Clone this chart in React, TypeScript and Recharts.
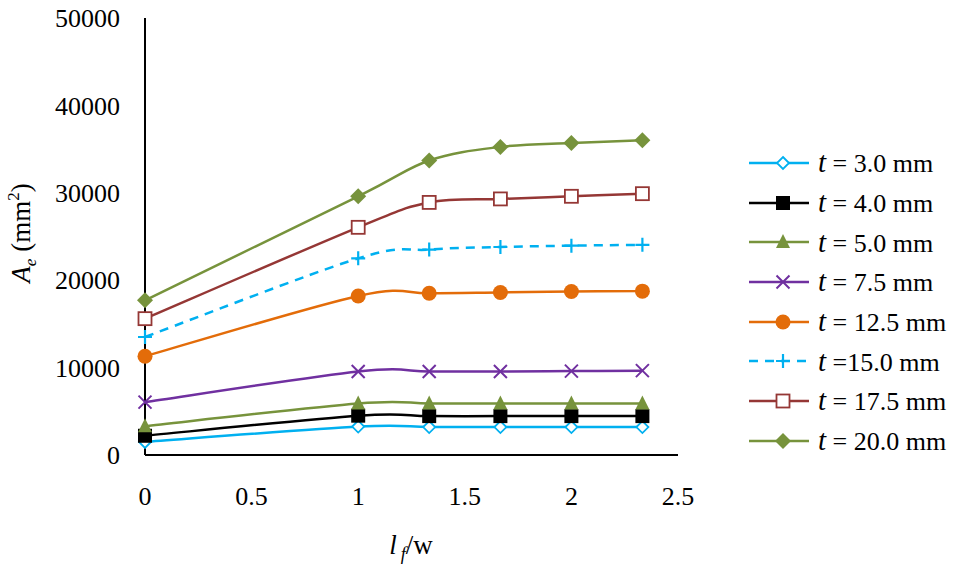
import * as React from "react";
import { CartesianGrid, Line, LineChart, XAxis, YAxis } from "recharts";

// l_f / w ratios and effective area (mm²) for each plate thickness
const lfw = [0, 1, 1.333, 1.667, 2, 2.333];
const t30 = [1500, 3250, 3200, 3200, 3200, 3200];
const t40 = [2200, 4500, 4450, 4450, 4450, 4450];
const t50 = [3300, 5900, 5900, 5900, 5900, 5900];
const t75 = [6050, 9550, 9550, 9550, 9600, 9650];
const t125 = [11300, 18200, 18500, 18600, 18700, 18750];
const t150 = [13500, 22500, 23500, 23800, 23950, 24050];
const t175 = [15600, 26050, 28900, 29300, 29600, 29900];
const t200 = [17700, 29600, 33700, 35250, 35700, 36000];

const xTicks = [0, 0.5, 1, 1.5, 2, 2.5];
const yTicks = [0, 10000, 20000, 30000, 40000, 50000];

const FONT = '"Liberation Serif", "Times New Roman", serif';

type Marker = "diamondOpen" | "square" | "triangle" | "cross" | "circle" | "plus" | "squareOpen" | "diamond";

type SeriesDef = {
  key: string;
  label: string;
  color: string;
  marker: Marker;
  dashed?: boolean;
  values: number[];
};

const series: SeriesDef[] = [
  { key: "t30", label: " = 3.0 mm", color: "#00B0F0", marker: "diamondOpen", values: t30 },
  { key: "t40", label: " = 4.0 mm", color: "#000000", marker: "square", values: t40 },
  { key: "t50", label: " = 5.0 mm", color: "#77933C", marker: "triangle", values: t50 },
  { key: "t75", label: " = 7.5 mm", color: "#7030A0", marker: "cross", values: t75 },
  { key: "t125", label: " = 12.5 mm", color: "#E36C09", marker: "circle", values: t125 },
  { key: "t150", label: " =15.0 mm", color: "#00B0F0", marker: "plus", dashed: true, values: t150 },
  { key: "t175", label: " = 17.5 mm", color: "#953735", marker: "squareOpen", values: t175 },
  { key: "t200", label: " = 20.0 mm", color: "#77933C", marker: "diamond", values: t200 },
];

const data = lfw.map((x, i) => {
  const row: Record<string, number> = { x };
  series.forEach((s) => (row[s.key] = s.values[i]));
  return row;
});

// Excel-like smoothed line (Catmull-Rom style bezier)
function excelCurve(context: any) {
  let pts: [number, number][] = [];
  return {
    areaStart() {},
    areaEnd() {},
    lineStart() {
      pts = [];
    },
    point(x: number, y: number) {
      pts.push([+x, +y]);
    },
    lineEnd() {
      if (!pts.length) return;
      context.moveTo(pts[0][0], pts[0][1]);
      for (let i = 0; i < pts.length - 1; i++) {
        const p0 = pts[i - 1] || pts[i];
        const p1 = pts[i];
        const p2 = pts[i + 1];
        const p3 = pts[i + 2] || p2;
        context.bezierCurveTo(
          p1[0] + (p2[0] - p0[0]) / 6,
          p1[1] + (p2[1] - p0[1]) / 6,
          p2[0] - (p3[0] - p1[0]) / 6,
          p2[1] - (p3[1] - p1[1]) / 6,
          p2[0],
          p2[1]
        );
      }
    },
  };
}

function MarkerShape({ type, cx, cy, color }: { type: Marker; cx: number; cy: number; color: string }) {
  switch (type) {
    case "diamondOpen":
      return (
        <polygon
          points={`${cx},${cy - 6} ${cx + 6},${cy} ${cx},${cy + 6} ${cx - 6},${cy}`}
          fill="#fff"
          stroke={color}
          strokeWidth={1.8}
        />
      );
    case "diamond":
      return (
        <polygon points={`${cx},${cy - 8} ${cx + 8},${cy} ${cx},${cy + 8} ${cx - 8},${cy}`} fill={color} />
      );
    case "square":
      return <rect x={cx - 7} y={cy - 7} width={14} height={14} fill={color} />;
    case "squareOpen":
      return (
        <rect x={cx - 6.5} y={cy - 6.5} width={13} height={13} fill="#fff" stroke={color} strokeWidth={1.8} />
      );
    case "triangle":
      return <polygon points={`${cx},${cy - 8} ${cx + 7},${cy + 6} ${cx - 7},${cy + 6}`} fill={color} />;
    case "circle":
      return <circle cx={cx} cy={cy} r={7.5} fill={color} />;
    case "cross":
      return (
        <path
          d={`M${cx - 6.5},${cy - 6.5}L${cx + 6.5},${cy + 6.5}M${cx - 6.5},${cy + 6.5}L${cx + 6.5},${cy - 6.5}`}
          stroke={color}
          strokeWidth={2}
        />
      );
    case "plus":
      return (
        <path d={`M${cx - 7},${cy}L${cx + 7},${cy}M${cx},${cy - 7}L${cx},${cy + 7}`} stroke={color} strokeWidth={2.2} />
      );
  }
  return null;
}

function YLabel() {
  return (
    <text
      x={30}
      y={233}
      transform="rotate(-90 30 233)"
      textAnchor="middle"
      fontFamily={FONT}
      fontSize={27}
      fill="#000"
    >
      <tspan fontStyle="italic">A</tspan>
      <tspan fontSize={17} dy={6} fontStyle="italic">e</tspan>
      <tspan dy={-6}> (mm</tspan>
      <tspan fontSize={17} dy={-11}>2</tspan>
      <tspan dy={11}>)</tspan>
    </text>
  );
}

function XLabel() {
  return (
    <text x={411} y={554} textAnchor="middle" fontFamily={FONT} fontSize={27} fill="#000">
      <tspan fontStyle="italic">l</tspan>
      <tspan fontSize={18} dy={6} dx={4} fontStyle="italic">f</tspan>
      <tspan dy={-6}>/w</tspan>
    </text>
  );
}

function LegendBox() {
  return (
    <div style={{ position: "absolute", left: 745, top: 143, fontFamily: FONT, fontSize: 26, color: "#000" }}>
      {series.map((s) => (
        <div key={s.key} style={{ display: "flex", alignItems: "center", height: 39.7 }}>
          <svg width={68} height={24} style={{ display: "block" }}>
            <line
              x1={4}
              x2={64}
              y1={12}
              y2={12}
              stroke={s.color}
              strokeWidth={2.5}
              strokeDasharray={s.dashed ? "9 7" : undefined}
            />
            <MarkerShape type={s.marker} cx={38} cy={12} color={s.color} />
          </svg>
          <span style={{ marginLeft: 5, whiteSpace: "pre" }}>
            <i style={{ fontSize: 29 }}>t</i>
            {s.label}
          </span>
        </div>
      ))}
    </div>
  );
}

export default function App() {
  return (
    <div style={{ position: "absolute", left: 0, top: 0, width: 963, height: 567, background: "#fff" }}>
      <LineChart width={963} height={567} data={data} margin={{ top: 18, right: 285, bottom: 52, left: 0 }}>
        <CartesianGrid stroke="none" />
        <XAxis
          dataKey="x"
          type="number"
          domain={[0, 2.5]}
          ticks={xTicks}
          height={60}
          tickSize={0}
          tickMargin={32}
          axisLine={{ stroke: "#000", strokeWidth: 2 }}
          tick={{ fill: "#000", fontSize: 26, fontFamily: FONT }}
        />
        <YAxis
          type="number"
          domain={[0, 50000]}
          ticks={yTicks}
          width={145}
          tickSize={0}
          tickMargin={25}
          axisLine={{ stroke: "#000", strokeWidth: 2 }}
          tick={{ fill: "#000", fontSize: 26, fontFamily: FONT }}
        />
        {series.map((s) => (
          <Line
            key={s.key}
            dataKey={s.key}
            type={excelCurve as any}
            stroke={s.color}
            strokeWidth={2.5}
            strokeDasharray={s.dashed ? "9 7" : undefined}
            isAnimationActive={false}
            dot={(p: any) => <MarkerShape key={`${s.key}-${p.index}`} type={s.marker} cx={p.cx} cy={p.cy} color={s.color} />}
            activeDot={false}
          />
        ))}
        <YLabel />
        <XLabel />
      </LineChart>
      <LegendBox />
    </div>
  );
}
